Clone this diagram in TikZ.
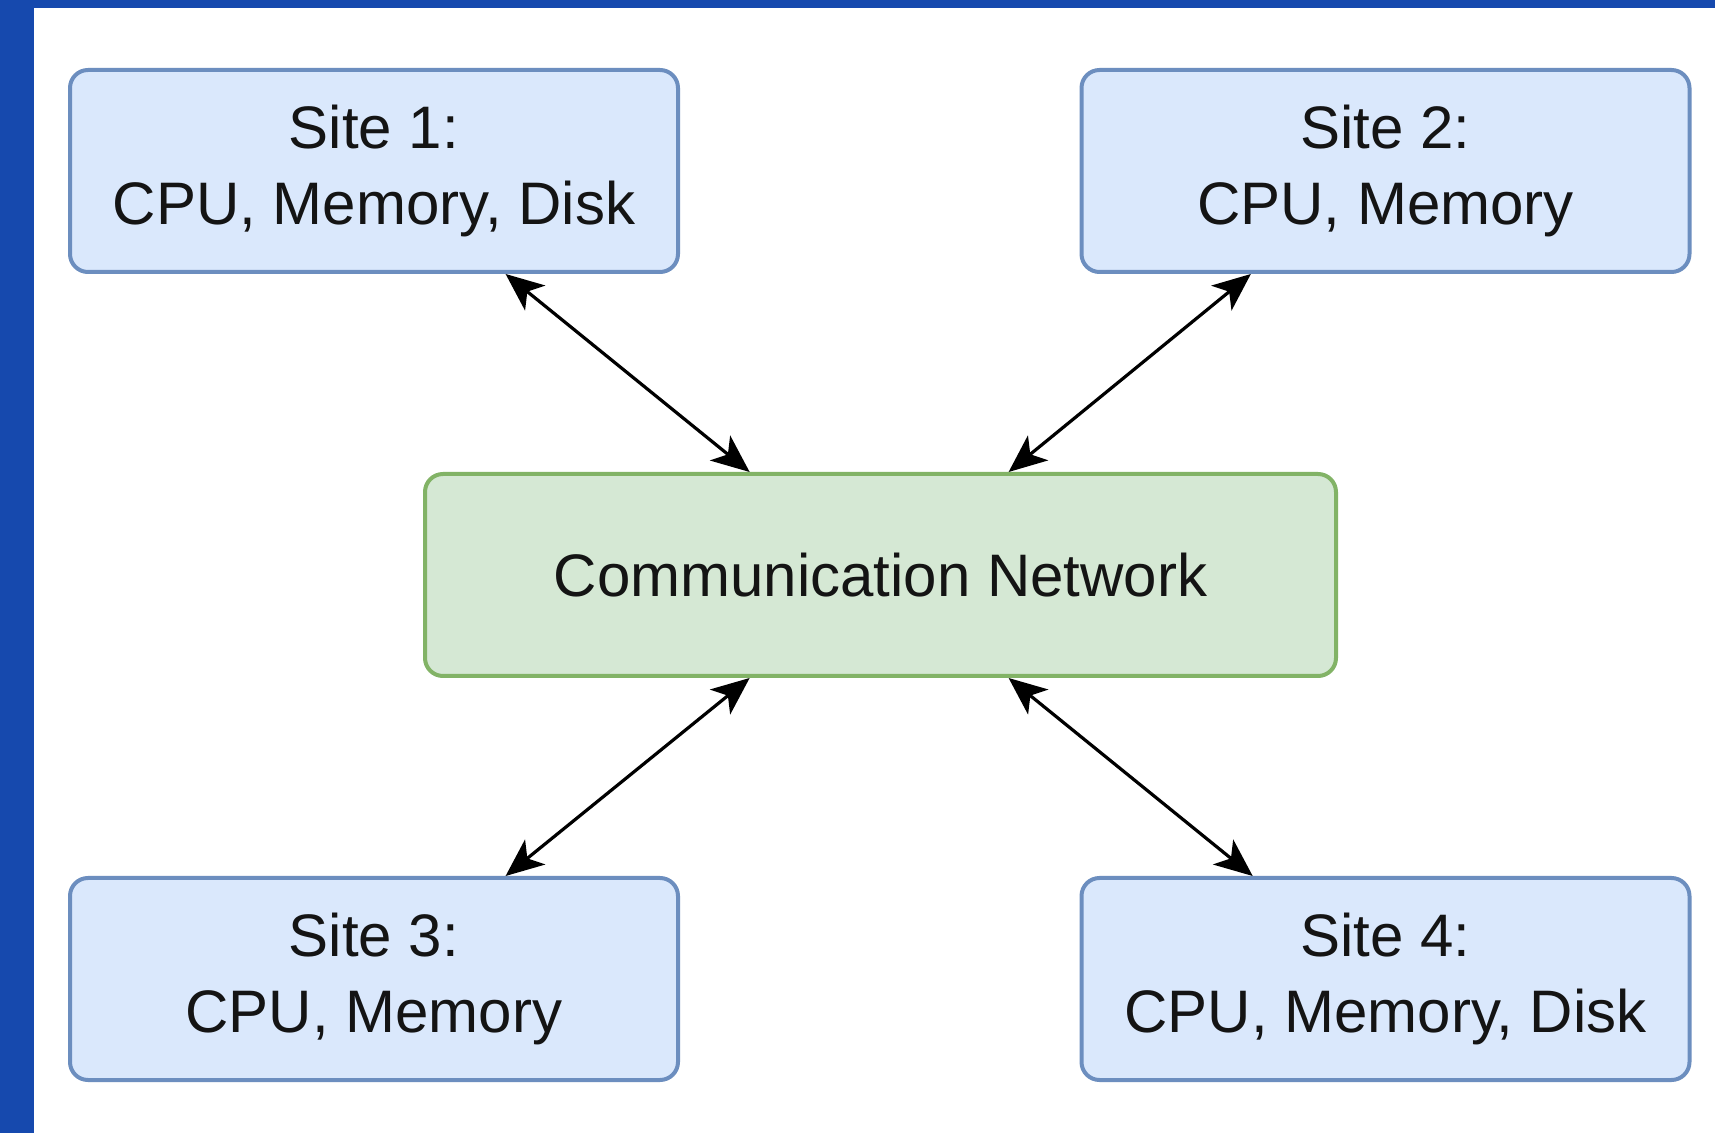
\documentclass[tikz,border=0pt]{standalone}
\usepackage{fontspec}
\setmainfont{Liberation Sans}
\usetikzlibrary{arrows.meta,calc}

\definecolor{framebar}{RGB}{22,73,174}
\definecolor{sitefill}{HTML}{DAE8FC}
\definecolor{sitedraw}{HTML}{6C8EBF}
\definecolor{netfill}{HTML}{D5E8D4}
\definecolor{netdraw}{HTML}{82B366}
\definecolor{labeltext}{RGB}{20,20,20}

\tikzset{
  box/.style={rounded corners=9pt, line width=2pt, align=center,
    text=labeltext, font=\fontsize{30}{38}\selectfont,
    minimum height=101pt, inner sep=0pt},
  sitebox/.style={box, fill=sitefill, draw=sitedraw, minimum width=304pt},
  netbox/.style={box, fill=netfill, draw=netdraw, minimum width=455.5pt},
  link/.style={line width=1.6pt, black,
    {Stealth[length=19pt,width=16pt,inset=5pt]}-{Stealth[length=19pt,width=16pt,inset=5pt]}}
}

\begin{document}
\begin{tikzpicture}[x=0.5pt,y=-0.5pt]
  % page and frame bars
  \fill[white] (0,0) rectangle (1715,1133);
  \useasboundingbox (0,0) rectangle (1715,1133);
  \fill[framebar] (0,0) rectangle (34,1133);
  \fill[framebar] (0,0) rectangle (1715,8);

  % sites and the network
  \node[sitebox] (s1) at (374,171)    {Site 1:\\CPU, Memory, Disk};
  \node[sitebox] (s2) at (1385.5,171) {Site 2:\\CPU, Memory};
  \node[netbox]  (net) at (880.5,575) {Communication Network};
  \node[sitebox] (s3) at (374,979)    {Site 3:\\CPU, Memory};
  \node[sitebox] (s4) at (1385.5,979) {Site 4:\\CPU, Memory, Disk};

  % two-way links
  \draw[link] ($(s1.south west)!0.715!(s1.south east)$) -- ($(net.north west)!0.357!(net.north east)$);
  \draw[link] ($(s2.south west)!0.28!(s2.south east)$) -- ($(net.north west)!0.64!(net.north east)$);
  \draw[link] ($(net.south west)!0.357!(net.south east)$) -- ($(s3.north west)!0.715!(s3.north east)$);
  \draw[link] ($(net.south west)!0.64!(net.south east)$) -- ($(s4.north west)!0.283!(s4.north east)$);
\end{tikzpicture}
\end{document}
